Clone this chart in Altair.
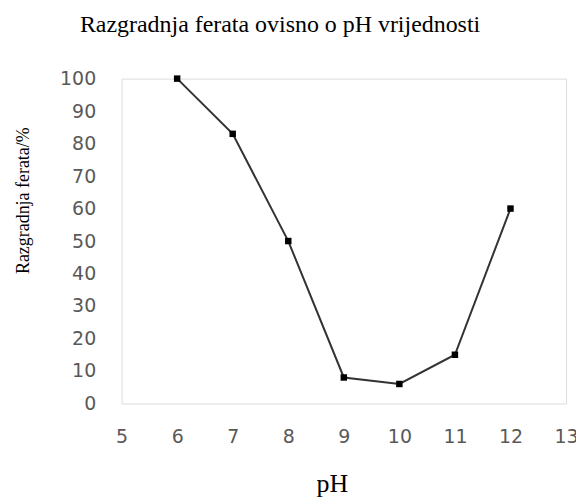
import altair as alt
import pandas as pd

ph = [6, 7, 8, 9, 10, 11, 12]
degradation = [100, 83, 50, 8, 6, 15, 60]
x_ticks = [5, 6, 7, 8, 9, 10, 11, 12, 13]
y_ticks = [0, 10, 20, 30, 40, 50, 60, 70, 80, 90, 100]

df = pd.DataFrame({"pH": ph, "deg": degradation})

label_font = "DejaVu Sans"
serif = "Liberation Serif"

x = alt.X("pH:Q",
          scale=alt.Scale(domain=[5, 13], nice=False, zero=False),
          axis=alt.Axis(values=x_ticks, format="d", title="pH", grid=False, domain=False, ticks=False,
                        labelPadding=24, labelFont=label_font, labelFontSize=19,
                        labelColor="#595959", labelFlush=False, labelOverlap=False,
                        titleFont=serif, titleFontSize=26, titleFontWeight="normal",
                        titleColor="#000000", titleX=211, titleY=88,
                        titleBaseline="alphabetic", titleAnchor="middle"))
y = alt.Y("deg:Q",
          scale=alt.Scale(domain=[0, 100], nice=False),
          axis=alt.Axis(values=y_ticks, format="d", title="Razgradnja ferata/%", grid=False, domain=False,
                        ticks=False, labelPadding=26, labelFont=label_font, labelFontSize=19,
                        labelColor="#595959", labelOverlap=False,
                        titleFont=serif, titleFontSize=18, titleFontWeight="normal",
                        titleColor="#000000", titleX=-98, titleY=122, titleAngle=270,
                        titleBaseline="middle", titleAnchor="middle"))

base = alt.Chart(df).encode(x=x, y=y)
line = base.mark_line(color="#333333", strokeWidth=2)
pts = base.mark_point(filled=True, color="#000000", shape="square", size=42, opacity=1)

chart = (line + pts).properties(
    width=446, height=326,
    title=alt.Title("Razgradnja ferata ovisno o pH vrijednosti", font=serif, fontSize=24,
                    fontWeight="normal", color="#000000", anchor="middle", dx=-64, dy=-33,
                    offset=0, frame="group"),
    autosize=alt.AutoSizeParams(type="none"),
    padding={"left": 114, "top": 70, "right": 10, "bottom": 95},
).configure_view(stroke="#8F8F8F", strokeWidth=2).configure(background="#ffffff")

chart.save("out.html", embed_options={"renderer": "svg", "actions": False})
